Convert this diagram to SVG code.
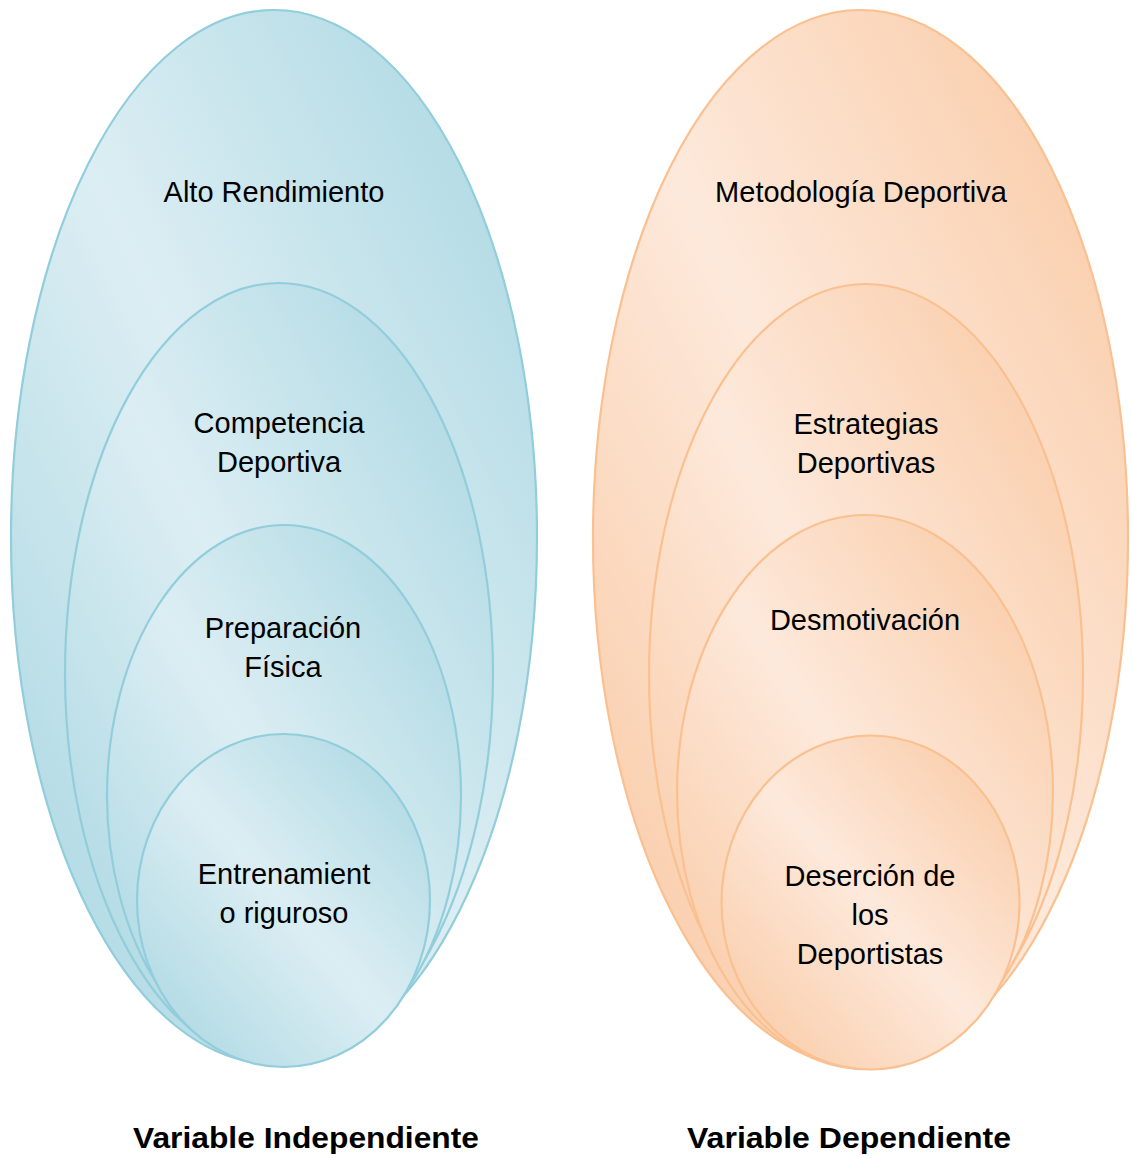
<svg xmlns="http://www.w3.org/2000/svg" width="1132" height="1158" viewBox="0 0 1132 1158">
  <defs>
    <!-- diagonal shading: darker at the lower-left and upper-right, lighter across the middle -->
    <linearGradient id="blueFill" x1="0" y1="1" x2="1" y2="0">
      <stop offset="0" stop-color="#a6d5e1"/>
      <stop offset="0.5" stop-color="#dceef3"/>
      <stop offset="1" stop-color="#a6d5e1"/>
    </linearGradient>
    <linearGradient id="orangeFill" x1="0" y1="1" x2="1" y2="0">
      <stop offset="0" stop-color="#f9c7a0"/>
      <stop offset="0.5" stop-color="#fde9db"/>
      <stop offset="1" stop-color="#f9c7a0"/>
    </linearGradient>
  </defs>
  <style>
    .blue { fill: url(#blueFill); stroke: #92cddc; stroke-width: 2.2; }
    .orange { fill: url(#orangeFill); stroke: #fac090; stroke-width: 2.2; }
    .label { font-family: "Liberation Sans", Arial, sans-serif; font-size: 29px; fill: #000; text-anchor: middle; }
    .caption { font-family: "Liberation Sans", Arial, sans-serif; font-size: 30px; font-weight: bold; fill: #000; text-anchor: middle; }
  </style>

  <rect width="1132" height="1158" fill="#ffffff"/>

  <!-- independent variable: nested ellipses -->
  <g id="alto-rendimiento">
    <ellipse class="blue" cx="274" cy="537" rx="263" ry="527"/>
    <text class="label" x="274" y="202">Alto Rendimiento</text>
  </g>
  <g id="competencia-deportiva">
    <ellipse class="blue" cx="279" cy="673.5" rx="214" ry="390.5"/>
    <text class="label" x="279" y="433">Competencia</text>
    <text class="label" x="279" y="472">Deportiva</text>
  </g>
  <g id="preparacion-fisica">
    <ellipse class="blue" cx="284" cy="795.5" rx="177" ry="270.5"/>
    <text class="label" x="283" y="638">Preparación</text>
    <text class="label" x="283" y="677">Física</text>
  </g>
  <g id="entrenamiento-riguroso">
    <ellipse class="blue" cx="283.5" cy="900.5" rx="146.5" ry="166.5"/>
    <text class="label" x="284" y="884">Entrenamient</text>
    <text class="label" x="284" y="923">o riguroso</text>
  </g>

  <!-- dependent variable: nested ellipses -->
  <g id="metodologia-deportiva">
    <ellipse class="orange" cx="860.5" cy="538" rx="267.5" ry="528"/>
    <text class="label" x="861" y="202">Metodología Deportiva</text>
  </g>
  <g id="estrategias-deportivas">
    <ellipse class="orange" cx="866" cy="675" rx="217" ry="391"/>
    <text class="label" x="866" y="434">Estrategias</text>
    <text class="label" x="866" y="473">Deportivas</text>
  </g>
  <g id="desmotivacion">
    <ellipse class="orange" cx="865" cy="792" rx="188" ry="277"/>
    <text class="label" x="865" y="630">Desmotivación</text>
  </g>
  <g id="desercion-deportistas">
    <ellipse class="orange" cx="870.5" cy="902.5" rx="149" ry="167"/>
    <text class="label" x="870" y="886">Deserción de</text>
    <text class="label" x="870" y="925">los</text>
    <text class="label" x="870" y="964">Deportistas</text>
  </g>

  <!-- no connectors in this figure -->
  <g id="connectors"/>

  <!-- captions -->
  <g id="captions">
    <text class="caption" x="306" y="1148" textLength="346" lengthAdjust="spacingAndGlyphs">Variable Independiente</text>
    <text class="caption" x="849" y="1148" textLength="324" lengthAdjust="spacingAndGlyphs">Variable Dependiente</text>
  </g>
</svg>
